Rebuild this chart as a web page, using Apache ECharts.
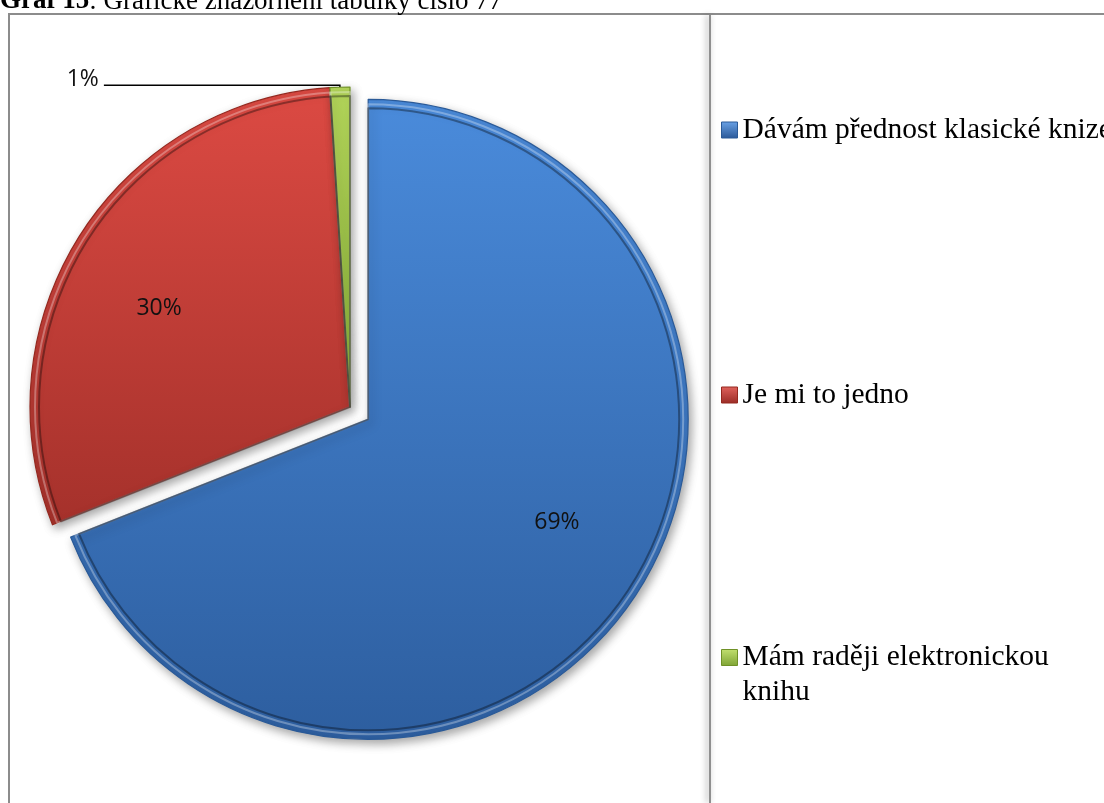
<!DOCTYPE html>
<html><head><meta charset="utf-8">
<script src="https://cdn.jsdelivr.net/npm/echarts@6/dist/echarts.min.js"></script>
<style>html,body{margin:0;padding:0;background:#fff}#c{width:1104px;height:803px}</style>
</head><body><div id="c"></div>
<script>
const categories = ['Dávám přednost klasické knize', 'Je mi to jedno', 'Mám raději elektronickou knihu'];
const values = [69, 30, 1];
const legendNames = ['Dávám přednost klasické knize', 'Je mi to jedno', '\nMám raději elektronickou\nknihu'];
const titleBold = 'Graf 15';
const titleRest = ': Grafické znázornění tabulky číslo 77';

const grad = (a, b) => ({type:'linear', x:0, y:0, x2:0, y2:1, colorStops:[{offset:0,color:a},{offset:1,color:b}]});
const fills = [grad('#4a8bdb', '#2d5e9f'), grad('#dc4a43', '#a5312b'), grad('#b3d55a', '#86ad36')];
const borders = ['#2a5a98', '#94281f', '#6f9127'];
const iconFills = [grad('#6aa2e6', '#2a5898'), grad('#e0625c', '#9a2c26'), grad('#c2e070', '#7ea334')];

const C = [350, 407];
const R = 320;

const mainData = categories.map((n, i) => ({
  name: n, value: values[i], selected: i === 0,
  itemStyle: {color: fills[i], borderColor: borders[i], borderWidth: 1.2},
  label: {show: i === 2},
  labelLine: {show: i === 2}
}));
const bevelData = categories.map((n, i) => ({
  name: n, value: values[i], selected: i === 0,
  itemStyle: {color: 'rgba(0,0,0,0)', borderColor: 'rgba(0,0,0,0.35)', borderWidth: 2}
}));
const shineData = categories.map((n, i) => ({
  name: n, value: values[i], selected: i === 0,
  itemStyle: {color: 'rgba(0,0,0,0)', borderColor: 'rgba(255,255,255,0.3)', borderWidth: 2}
}));
const labelData = categories.map((n, i) => ({
  name: n, value: values[i], selected: i === 0,
  itemStyle: {color: 'rgba(0,0,0,0)', borderWidth: 0},
  label: {show: i !== 2}
}));

const pct = p => Math.round(p.percent) + '%';
const labelFont = {fontFamily: '"Open Sans", sans-serif', fontSize: 23, color: '#111'};

const legendTops = [112.5, 377.5, 605];
const legends = categories.map((n, i) => ({
  orient: 'vertical', left: 721, top: legendTops[i], padding: 0,
  itemWidth: 16, itemHeight: 16, icon: 'rect',
  data: [{name: n, itemStyle: {color: iconFills[i], borderColor: borders[i], borderWidth: 1}}],
  formatter: () => legendNames[i],
  selectedMode: false,
  textStyle: {fontFamily: '"Liberation Serif", "Times New Roman", serif', fontSize: 29.5, lineHeight: 35, color: '#000'}
}));

const chart = echarts.init(document.getElementById('c'), null, {renderer: 'canvas'});
chart.setOption({
  animation: false,
  backgroundColor: '#fff',
  title: {
    left: 0, top: -12, padding: 0,
    text: '{b|' + titleBold + '}{n|' + titleRest + '}',
    textStyle: {fontWeight: 'normal', rich: {
      b: {fontFamily: '"Liberation Serif", serif', fontSize: 27, fontWeight: 'bold', color: '#000', lineHeight: 27},
      n: {fontFamily: '"Liberation Serif", serif', fontSize: 27, fontWeight: 'normal', color: '#000', lineHeight: 27}
    }}
  },
  legend: legends,
  graphic: [
    {type: 'rect', silent: true, z: -10, shape: {x: 9, y: 14, width: 1300, height: 1000}, style: {fill: 'none', stroke: '#8c8c8c', lineWidth: 2}},
    {type: 'line', silent: true, z: -10, shape: {x1: 710, y1: 15, x2: 710, y2: 803}, style: {stroke: '#8f8f8f', lineWidth: 2, shadowBlur: 6, shadowColor: 'rgba(0,0,0,0.45)', shadowOffsetX: -2}}
  ],
  series: [
    {
      type: 'pie', center: C, radius: [0, R], startAngle: 90, clockwise: true,
      selectedMode: 'multiple', selectedOffset: 22, avoidLabelOverlap: false,
      emphasis: {disabled: true},
      itemStyle: {shadowBlur: 10, shadowColor: 'rgba(0,0,0,0.35)', shadowOffsetX: 3, shadowOffsetY: 4},
      label: {position: 'outside', distanceToLabelLine: 5,
        formatter: p => '{p|' + pct(p) + '}\n{s| }',
        rich: {
          p: {fontFamily: '"Open Sans", sans-serif', fontSize: 23, color: '#111', lineHeight: 28},
          s: {fontSize: 4, lineHeight: 12}
        }},
      labelLine: {length: 2, length2: 236, smooth: false, lineStyle: {color: '#000', width: 1.5}},
      data: mainData
    },
    {
      type: 'pie', center: C, radius: [0, R - 5], startAngle: 90, silent: true,
      selectedMode: 'multiple', selectedOffset: 22,
      emphasis: {disabled: true},
      label: {show: false}, labelLine: {show: false},
      data: shineData
    },
    {
      type: 'pie', center: C, radius: [0, R - 9], startAngle: 90, silent: true,
      selectedMode: 'multiple', selectedOffset: 22,
      emphasis: {disabled: true},
      label: {show: false}, labelLine: {show: false},
      data: bevelData
    },
    {
      type: 'pie', center: C, radius: [104, R], startAngle: 95, silent: true,
      selectedMode: 'multiple', selectedOffset: 22,
      emphasis: {disabled: true},
      label: Object.assign({position: 'inner', formatter: pct}, labelFont),
      labelLine: {show: false},
      data: labelData
    }
  ]
});
</script>
</body></html>
